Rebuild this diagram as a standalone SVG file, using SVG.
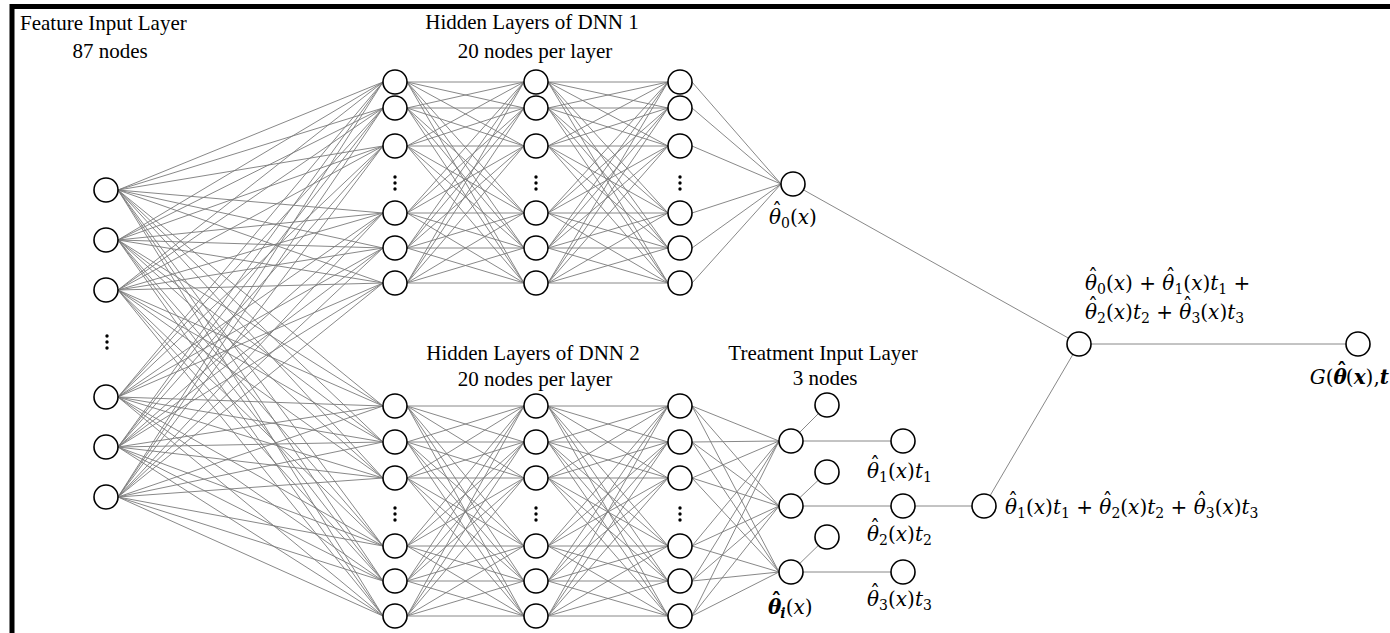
<svg xmlns="http://www.w3.org/2000/svg" width="1390" height="633" viewBox="0 0 1390 633">
<style>
.edge{fill:none;stroke:#7a7a7a;stroke-width:0.9;stroke-linejoin:round}
.node{fill:#fff;stroke:#000;stroke-width:1.6}
.dot{fill:#000}
.title{font-family:"Liberation Serif","Times New Roman",serif;font-size:21px;fill:#000}
.math{font-family:"DejaVu Serif","Liberation Serif",serif;font-size:20px;fill:#000}
.it{font-style:italic}
.sub{font-size:14px}
.bold{font-weight:bold}
.hat{font-style:normal}
</style>
<defs>
<circle id="n" r="12" class="node"/>
<g id="vd"><circle cx="0" cy="-6" r="1.7" class="dot"/><circle cx="0" cy="0" r="1.7" class="dot"/><circle cx="0" cy="6" r="1.7" class="dot"/></g>
</defs>
<rect width="1390" height="633" fill="#fff"/>
<path d="M12 633V6.5H1390" fill="none" stroke="#000" stroke-width="5"/>

<g id="connectors">
<path class="edge" d="M383 82L118 190L383 108M383 146L118 190L383 213M383 248L118 190L383 283
M383 82L118 240L383 108M383 146L118 240L383 213M383 248L118 240L383 283
M383 82L118 290L383 108M383 146L118 290L383 213M383 248L118 290L383 283
M383 82L118 397L383 108M383 146L118 397L383 213M383 248L118 397L383 283
M383 82L118 447L383 108M383 146L118 447L383 213M383 248L118 447L383 283
M383 82L118 497L383 108M383 146L118 497L383 213M383 248L118 497L383 283"/>
<path class="edge" d="M383 406L118 190L383 442M383 478L118 190L383 546M383 581L118 190L383 616
M383 406L118 240L383 442M383 478L118 240L383 546M383 581L118 240L383 616
M383 406L118 290L383 442M383 478L118 290L383 546M383 581L118 290L383 616
M383 406L118 397L383 442M383 478L118 397L383 546M383 581L118 397L383 616
M383 406L118 447L383 442M383 478L118 447L383 546M383 581L118 447L383 616
M383 406L118 497L383 442M383 478L118 497L383 546M383 581L118 497L383 616"/>
<path class="edge" d="M524 82L407 82L524 108M524 146L407 82L524 213M524 248L407 82L524 283
M524 82L407 108L524 108M524 146L407 108L524 213M524 248L407 108L524 283
M524 82L407 146L524 108M524 146L407 146L524 213M524 248L407 146L524 283
M524 82L407 213L524 108M524 146L407 213L524 213M524 248L407 213L524 283
M524 82L407 248L524 108M524 146L407 248L524 213M524 248L407 248L524 283
M524 82L407 283L524 108M524 146L407 283L524 213M524 248L407 283L524 283"/>
<path class="edge" d="M668 82L548 82L668 108M668 146L548 82L668 213M668 248L548 82L668 283
M668 82L548 108L668 108M668 146L548 108L668 213M668 248L548 108L668 283
M668 82L548 146L668 108M668 146L548 146L668 213M668 248L548 146L668 283
M668 82L548 213L668 108M668 146L548 213L668 213M668 248L548 213L668 283
M668 82L548 248L668 108M668 146L548 248L668 213M668 248L548 248L668 283
M668 82L548 283L668 108M668 146L548 283L668 213M668 248L548 283L668 283"/>
<path class="edge" d="M524 406L407 406L524 442M524 478L407 406L524 546M524 581L407 406L524 616
M524 406L407 442L524 442M524 478L407 442L524 546M524 581L407 442L524 616
M524 406L407 478L524 442M524 478L407 478L524 546M524 581L407 478L524 616
M524 406L407 546L524 442M524 478L407 546L524 546M524 581L407 546L524 616
M524 406L407 581L524 442M524 478L407 581L524 546M524 581L407 581L524 616
M524 406L407 616L524 442M524 478L407 616L524 546M524 581L407 616L524 616"/>
<path class="edge" d="M668 406L548 406L668 442M668 478L548 406L668 546M668 581L548 406L668 616
M668 406L548 442L668 442M668 478L548 442L668 546M668 581L548 442L668 616
M668 406L548 478L668 442M668 478L548 478L668 546M668 581L548 478L668 616
M668 406L548 546L668 442M668 478L548 546L668 546M668 581L548 546L668 616
M668 406L548 581L668 442M668 478L548 581L668 546M668 581L548 581L668 616
M668 406L548 616L668 442M668 478L548 616L668 546M668 581L548 616L668 616"/>
<path class="edge" d="M692 82L781 184L692 108M692 146L781 184L692 213M692 248L781 184L692 283"/>
<path class="edge" d="M692 406L779 441L692 442M692 478L779 441L692 546M692 581L779 441L692 616
M692 406L779 506L692 442M692 478L779 506L692 546M692 581L779 506L692 616
M692 406L779 572L692 442M692 478L779 572L692 546M692 581L779 572L692 616"/>
<path class="edge" d="M791 441L827 405M791 506L827 472M791 572L827 537
M803 441H891M803 506H891M803 572H891M915 506H972"/>
<path class="edge" d="M793 184L1079 344M984 506L1079 344M1091 344H1346"/>
</g>

<g id="input-layer">
<use href="#n" x="106" y="190"/><use href="#n" x="106" y="240"/><use href="#n" x="106" y="290"/>
<use href="#vd" x="107" y="342"/>
<use href="#n" x="106" y="397"/><use href="#n" x="106" y="447"/><use href="#n" x="106" y="497"/>
</g>
<g id="dnn1-l1">
<use href="#n" x="395" y="82"/><use href="#n" x="395" y="108"/><use href="#n" x="395" y="146"/>
<use href="#vd" x="395" y="183"/>
<use href="#n" x="395" y="213"/><use href="#n" x="395" y="248"/><use href="#n" x="395" y="283"/>
</g>
<g id="dnn1-l2">
<use href="#n" x="536" y="82"/><use href="#n" x="536" y="108"/><use href="#n" x="536" y="146"/>
<use href="#vd" x="536" y="183"/>
<use href="#n" x="536" y="213"/><use href="#n" x="536" y="248"/><use href="#n" x="536" y="283"/>
</g>
<g id="dnn1-l3">
<use href="#n" x="680" y="82"/><use href="#n" x="680" y="108"/><use href="#n" x="680" y="146"/>
<use href="#vd" x="680" y="183"/>
<use href="#n" x="680" y="213"/><use href="#n" x="680" y="248"/><use href="#n" x="680" y="283"/>
</g>
<g id="dnn2-l1">
<use href="#n" x="395" y="406"/><use href="#n" x="395" y="442"/><use href="#n" x="395" y="478"/>
<use href="#vd" x="395" y="514"/>
<use href="#n" x="395" y="546"/><use href="#n" x="395" y="581"/><use href="#n" x="395" y="616"/>
</g>
<g id="dnn2-l2">
<use href="#n" x="536" y="406"/><use href="#n" x="536" y="442"/><use href="#n" x="536" y="478"/>
<use href="#vd" x="536" y="514"/>
<use href="#n" x="536" y="546"/><use href="#n" x="536" y="581"/><use href="#n" x="536" y="616"/>
</g>
<g id="dnn2-l3">
<use href="#n" x="680" y="406"/><use href="#n" x="680" y="442"/><use href="#n" x="680" y="478"/>
<use href="#vd" x="680" y="514"/>
<use href="#n" x="680" y="546"/><use href="#n" x="680" y="581"/><use href="#n" x="680" y="616"/>
</g>
<g id="theta0"><use href="#n" x="793" y="184"/></g>
<g id="theta-i"><use href="#n" x="791" y="441"/><use href="#n" x="791" y="506"/><use href="#n" x="791" y="572"/></g>
<g id="treatment-inputs"><use href="#n" x="827" y="405"/><use href="#n" x="827" y="472"/><use href="#n" x="827" y="537"/></g>
<g id="products"><use href="#n" x="903" y="441"/><use href="#n" x="903" y="506"/><use href="#n" x="903" y="572"/></g>
<g id="combine"><use href="#n" x="984" y="506"/></g>
<g id="sum"><use href="#n" x="1079" y="344"/></g>
<g id="output"><use href="#n" x="1358" y="344"/></g>

<g id="labels">
<text class="title" x="20" y="30">Feature Input Layer</text>
<text class="title" x="110" y="58" text-anchor="middle">87 nodes</text>
<text class="title" x="532" y="29" text-anchor="middle">Hidden Layers of DNN 1</text>
<text class="title" x="535" y="58" text-anchor="middle">20 nodes per layer</text>
<text class="title" x="533" y="360" text-anchor="middle">Hidden Layers of DNN 2</text>
<text class="title" x="535" y="386" text-anchor="middle">20 nodes per layer</text>
<text class="title" x="823" y="360" text-anchor="middle">Treatment Input Layer</text>
<text class="title" x="825" y="385" text-anchor="middle">3 nodes</text>

<text class="math" x="769" y="224"><tspan class="it">θ</tspan><tspan class="hat" dx="-9" dy="-6">ˆ</tspan><tspan class="sub" dx="-1" dy="10">0</tspan><tspan dy="-4">(</tspan><tspan class="it">x</tspan>)</text>

<text class="math" x="1085" y="290"><tspan class="it">θ</tspan><tspan class="hat" dx="-9" dy="-6">ˆ</tspan><tspan class="sub" dx="-1" dy="10">0</tspan><tspan dy="-4">(</tspan><tspan class="it">x</tspan>) + <tspan class="it">θ</tspan><tspan class="hat" dx="-9" dy="-6">ˆ</tspan><tspan class="sub" dx="-1" dy="10">1</tspan><tspan dy="-4">(</tspan><tspan class="it">x</tspan>)<tspan class="it">t</tspan><tspan class="sub" dy="4">1</tspan><tspan dy="-4"> +</tspan></text>

<text class="math" x="1085" y="319"><tspan class="it">θ</tspan><tspan class="hat" dx="-9" dy="-6">ˆ</tspan><tspan class="sub" dx="-1" dy="10">2</tspan><tspan dy="-4">(</tspan><tspan class="it">x</tspan>)<tspan class="it">t</tspan><tspan class="sub" dy="4">2</tspan><tspan dy="-4"> + </tspan><tspan class="it">θ</tspan><tspan class="hat" dx="-9" dy="-6">ˆ</tspan><tspan class="sub" dx="-1" dy="10">3</tspan><tspan dy="-4">(</tspan><tspan class="it">x</tspan>)<tspan class="it">t</tspan><tspan class="sub" dy="4">3</tspan></text>

<text class="math" x="1389" y="384" text-anchor="end"><tspan class="it">G</tspan>(<tspan class="it bold">θ</tspan><tspan class="hat bold" dx="-10" dy="-6">ˆ</tspan><tspan dx="-1" dy="6">(</tspan><tspan class="it bold">x</tspan>),<tspan class="it bold">t</tspan></text>

<text class="math" x="867" y="478"><tspan class="it">θ</tspan><tspan class="hat" dx="-9" dy="-6">ˆ</tspan><tspan class="sub" dx="-1" dy="10">1</tspan><tspan dy="-4">(</tspan><tspan class="it">x</tspan>)<tspan class="it">t</tspan><tspan class="sub" dy="4">1</tspan></text>
<text class="math" x="867" y="541"><tspan class="it">θ</tspan><tspan class="hat" dx="-9" dy="-6">ˆ</tspan><tspan class="sub" dx="-1" dy="10">2</tspan><tspan dy="-4">(</tspan><tspan class="it">x</tspan>)<tspan class="it">t</tspan><tspan class="sub" dy="4">2</tspan></text>
<text class="math" x="867" y="606"><tspan class="it">θ</tspan><tspan class="hat" dx="-9" dy="-6">ˆ</tspan><tspan class="sub" dx="-1" dy="10">3</tspan><tspan dy="-4">(</tspan><tspan class="it">x</tspan>)<tspan class="it">t</tspan><tspan class="sub" dy="4">3</tspan></text>
<text class="math" x="768" y="614"><tspan class="it bold">θ</tspan><tspan class="hat bold" dx="-10" dy="-6">ˆ</tspan><tspan class="sub it bold" dx="-1" dy="10">i</tspan><tspan dy="-4">(</tspan><tspan class="it">x</tspan>)</text>

<text class="math" x="1005" y="514"><tspan class="it">θ</tspan><tspan class="hat" dx="-9" dy="-6">ˆ</tspan><tspan class="sub" dx="-1" dy="10">1</tspan><tspan dy="-4">(</tspan><tspan class="it">x</tspan>)<tspan class="it">t</tspan><tspan class="sub" dy="4">1</tspan><tspan dy="-4"> + </tspan><tspan class="it">θ</tspan><tspan class="hat" dx="-9" dy="-6">ˆ</tspan><tspan class="sub" dx="-1" dy="10">2</tspan><tspan dy="-4">(</tspan><tspan class="it">x</tspan>)<tspan class="it">t</tspan><tspan class="sub" dy="4">2</tspan><tspan dy="-4"> + </tspan><tspan class="it">θ</tspan><tspan class="hat" dx="-9" dy="-6">ˆ</tspan><tspan class="sub" dx="-1" dy="10">3</tspan><tspan dy="-4">(</tspan><tspan class="it">x</tspan>)<tspan class="it">t</tspan><tspan class="sub" dy="4">3</tspan></text>
</g>
</svg>
